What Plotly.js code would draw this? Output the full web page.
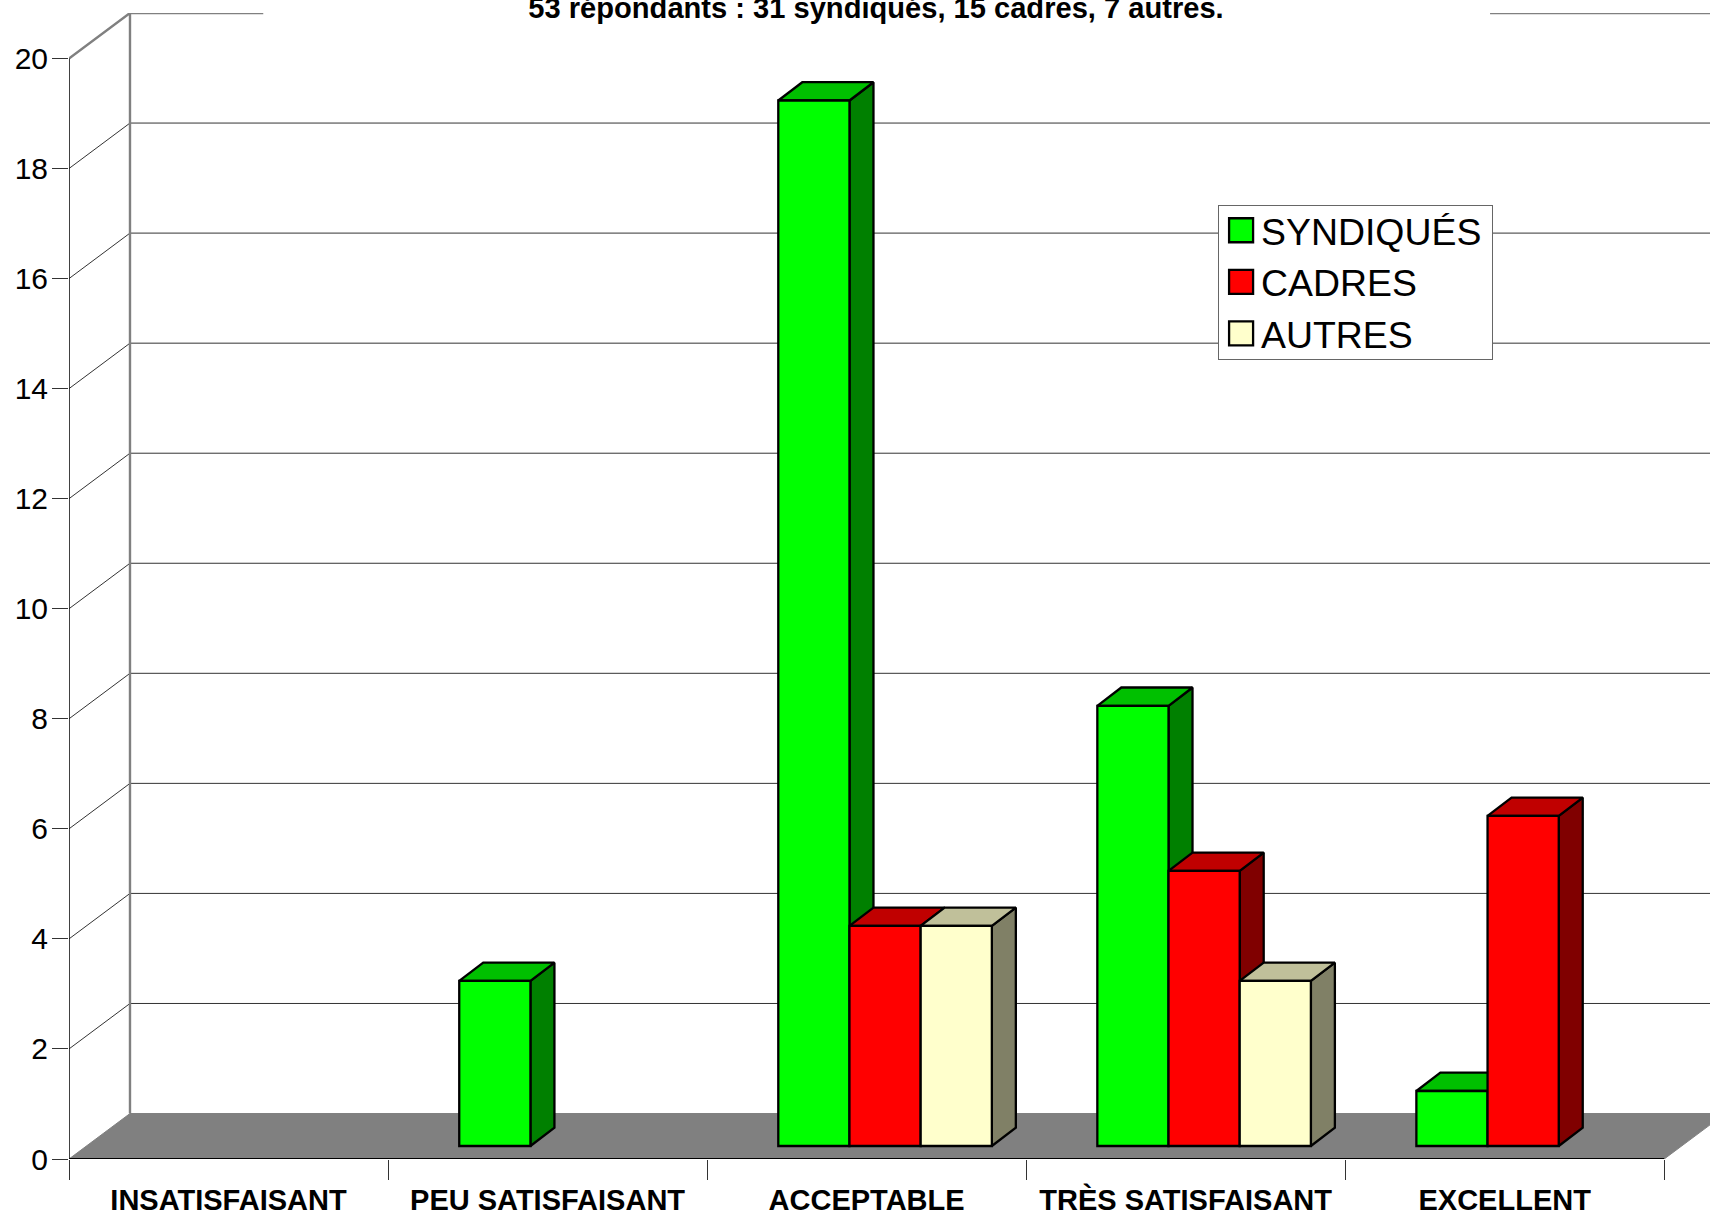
<!DOCTYPE html>
<html><head><meta charset="utf-8">
<script src="https://cdn.plot.ly/plotly-3.0.1.min.js"></script>
<style>html,body{margin:0;padding:0;background:#fff}#c{width:1710px;height:1215px}</style>
</head><body><div id="c"></div>
<script>
const categories = ["INSATISFAISANT","PEU SATISFAISANT","ACCEPTABLE","TRÈS SATISFAISANT","EXCELLENT"];
const syndiques = [0,3,19,8,1];
const cadres = [0,0,4,5,6];
const autres = [0,0,4,3,0];
const seriesNames = ["SYNDIQUÉS","CADRES","AUTRES"];
const frontColors = ["#00ff00","#ff0000","#ffffcc"];
const sideColors = ["#008000","#800000","#808066"];
const topColors = ["#00c000","#c00000","#c0c09a"];
const yTicks = [0,2,4,6,8,10,12,14,16,18,20];
const titleText = "53 répondants : 31 syndiqués, 15 cadres, 7 autres.";

const W=1710,H=1215,L=68.7,B=1159,UX=319.1,UY=55.05,TOP=12.5;
const xMax=(W-L)/UX, yMax=(B-TOP)/UY;
const dX=61/UX, dY=45.5/UY;               // chart depth
const barW=71.2/UX, barBase=13/UY;        // bar placement on the floor
const barDX=24/UX, barDY=18.3/UY;         // bar depth
const groupLeft=(292.6-196)/2/292.6+17/292.6; // left of group within a category
const all=[syndiques,cadres,autres];
const FONT="Liberation Sans, Arial, sans-serif";

function poly(xs,ys,fill,lineColor,lw){
  return {type:"scatter",mode:"lines",x:xs,y:ys,xaxis:"x",yaxis:"y",fill:fill?"toself":"none",fillcolor:fill||undefined,
    line:{color:lineColor,width:lw},showlegend:false,hoverinfo:"skip",cliponaxis:false};
}
const traces=[];
traces.push(poly([0,5,5+dX,dX,0],[0,0,dY,dY,0],"#808080","#808080",1));
const gx=[],gy=[];
yTicks.filter(v=>v>0&&v<20).forEach(v=>{gx.push(0,dX,xMax,null);gy.push(v,v+dY,v+dY,null);});
traces.push(poly(gx,gy,null,"#333333",1));
traces.push(poly([0,dX,(263-L)/UX],[20,20+dY,20+dY],null,"#808080",2.4));
traces.push(poly([(1490-L)/UX,xMax],[20+dY,20+dY],null,"#808080",2.4));
traces.push(poly([dX,dX],[dY,20+dY],null,"#808080",2.4));
traces.push(poly([0,0],[0,20],null,"#111111",1.6));
traces.push(poly([0,5],[0,0],null,"#000000",2));
all.forEach((vals,s)=>{
  vals.forEach((v,c)=>{
    if(!(v>0))return;
    const x0=c+groupLeft+s*barW, x1=x0+barW, y0=barBase, y1=barBase+v;
    traces.push(poly([x1,x1+barDX,x1+barDX,x1,x1],[y0,y0+barDY,y1+barDY,y1,y0],sideColors[s],"#000000",2.3));
    traces.push(poly([x0,x0+barDX,x1+barDX,x1,x0],[y1,y1+barDY,y1+barDY,y1,y1],topColors[s],"#000000",2.3));
  });
});
all.forEach((vals,s)=>{
  traces.push({type:"bar",name:seriesNames[s],x:categories,y:vals.map(v=>v>0?v:null),
    base:barBase,width:barW,offset:groupLeft-0.5+s*barW,xaxis:"x2",yaxis:"y2",
    marker:{color:frontColors[s],line:{color:"#000000",width:2.3}},hoverinfo:"skip"});
});
const layout={
  width:W,height:H,margin:{l:L,r:0,t:TOP,b:H-B,pad:0},autosize:false,
  paper_bgcolor:"#fff",plot_bgcolor:"rgba(0,0,0,0)",barmode:"overlay",
  font:{family:FONT,color:"#000"},showlegend:true,
  title:{text:titleText,x:876/W,xanchor:"center",xref:"container",y:1-17.5/H,yanchor:"bottom",yref:"container",
    font:{family:FONT,size:29.1,weight:"bold",color:"#000"},pad:{t:0,b:0,l:0,r:0},automargin:false},
  xaxis:{type:"linear",range:[0,xMax],visible:false,fixedrange:true},
  yaxis:{type:"linear",range:[0,yMax],tickmode:"array",tickvals:yTicks,ticktext:yTicks.map(String),
    ticks:"outside",ticklen:16,tickwidth:1,tickcolor:"#333",showgrid:false,zeroline:false,showline:false,
    tickfont:{family:FONT,size:30,color:"#000"},ticklabelstandoff:-2,fixedrange:true},
  xaxis2:{type:"category",overlaying:"x",anchor:"y2",side:"bottom",range:[-0.5,xMax-0.5],categoryorder:"array",categoryarray:categories,
    tickson:"boundaries",ticks:"outside",ticklen:20,tickwidth:1,tickcolor:"#333",showgrid:false,zeroline:false,showline:false,
    tickfont:{family:FONT,size:29,weight:"bold",color:"#000"},ticklabelstandoff:21,fixedrange:true},
  yaxis2:{type:"linear",overlaying:"y",anchor:"x2",range:[0,yMax],visible:false,fixedrange:true},
  legend:{x:(1220-L)/(W-L),xanchor:"left",y:(B-198)/(B-TOP),yanchor:"top",bgcolor:"#fff",bordercolor:"#666",borderwidth:1,
    font:{family:FONT,size:37.4,color:"#000"},itemwidth:30,itemclick:false,itemdoubleclick:false,traceorder:"normal"}
};
Plotly.newPlot("c",traces,layout,{displayModeBar:false,staticPlot:true}).then(gd=>{
  gd.querySelectorAll(".legend path.legendbar, .legend .legendpoints path").forEach(p=>{
    if(p.getAttribute("d")) p.setAttribute("d","M12,12H-12V-12H12Z");
  });
  const bg=gd.querySelector(".legend rect.bg");
  if(bg){bg.setAttribute("x",-2);bg.setAttribute("y",7);bg.setAttribute("width",274);bg.setAttribute("height",154);}
});
</script></body></html>
